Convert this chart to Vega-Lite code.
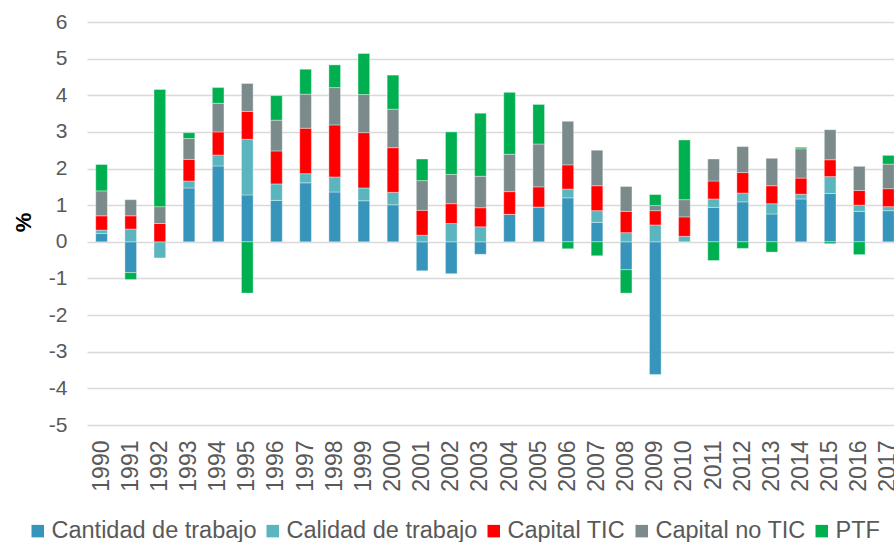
{
  "$schema": "https://vega.github.io/schema/vega-lite/v6.json",
  "width": 807,
  "height": 403,
  "autosize": {"type": "none"},
  "padding": {"left": 87, "top": 22, "right": 0, "bottom": 117},
  "background": "white",
  "config": {"view": {"stroke": null}, "font": "Liberation Sans"},
  "data": {"values": [
    {"year": "1990", "Cantidad de trabajo": 0.23, "Calidad de trabajo": 0.09, "Capital TIC": 0.39, "Capital no TIC": 0.68, "PTF": 0.72},
    {"year": "1991", "Cantidad de trabajo": -0.84, "Calidad de trabajo": 0.35, "Capital TIC": 0.36, "Capital no TIC": 0.44, "PTF": -0.19},
    {"year": "1992", "Cantidad de trabajo": 0, "Calidad de trabajo": -0.44, "Capital TIC": 0.50, "Capital no TIC": 0.46, "PTF": 3.20},
    {"year": "1993", "Cantidad de trabajo": 1.47, "Calidad de trabajo": 0.19, "Capital TIC": 0.59, "Capital no TIC": 0.57, "PTF": 0.16},
    {"year": "1994", "Cantidad de trabajo": 2.07, "Calidad de trabajo": 0.30, "Capital TIC": 0.63, "Capital no TIC": 0.78, "PTF": 0.43},
    {"year": "1995", "Cantidad de trabajo": 1.28, "Calidad de trabajo": 1.52, "Capital TIC": 0.76, "Capital no TIC": 0.76, "PTF": -1.40},
    {"year": "1996", "Cantidad de trabajo": 1.13, "Calidad de trabajo": 0.45, "Capital TIC": 0.90, "Capital no TIC": 0.84, "PTF": 0.67},
    {"year": "1997", "Cantidad de trabajo": 1.61, "Calidad de trabajo": 0.25, "Capital TIC": 1.24, "Capital no TIC": 0.93, "PTF": 0.68},
    {"year": "1998", "Cantidad de trabajo": 1.36, "Calidad de trabajo": 0.41, "Capital TIC": 1.42, "Capital no TIC": 1.02, "PTF": 0.62},
    {"year": "1999", "Cantidad de trabajo": 1.12, "Calidad de trabajo": 0.35, "Capital TIC": 1.51, "Capital no TIC": 1.04, "PTF": 1.12},
    {"year": "2000", "Cantidad de trabajo": 1.01, "Calidad de trabajo": 0.34, "Capital TIC": 1.22, "Capital no TIC": 1.05, "PTF": 0.93},
    {"year": "2001", "Cantidad de trabajo": -0.79, "Calidad de trabajo": 0.18, "Capital TIC": 0.68, "Capital no TIC": 0.81, "PTF": 0.59},
    {"year": "2002", "Cantidad de trabajo": -0.87, "Calidad de trabajo": 0.50, "Capital TIC": 0.54, "Capital no TIC": 0.80, "PTF": 1.16},
    {"year": "2003", "Cantidad de trabajo": -0.34, "Calidad de trabajo": 0.41, "Capital TIC": 0.52, "Capital no TIC": 0.86, "PTF": 1.72},
    {"year": "2004", "Cantidad de trabajo": 0.75, "Calidad de trabajo": 0, "Capital TIC": 0.62, "Capital no TIC": 1.02, "PTF": 1.69},
    {"year": "2005", "Cantidad de trabajo": 0.95, "Calidad de trabajo": 0, "Capital TIC": 0.55, "Capital no TIC": 1.17, "PTF": 1.08},
    {"year": "2006", "Cantidad de trabajo": 1.20, "Calidad de trabajo": 0.24, "Capital TIC": 0.66, "Capital no TIC": 1.19, "PTF": -0.19},
    {"year": "2007", "Cantidad de trabajo": 0.53, "Calidad de trabajo": 0.32, "Capital TIC": 0.68, "Capital no TIC": 0.97, "PTF": -0.38},
    {"year": "2008", "Cantidad de trabajo": -0.76, "Calidad de trabajo": 0.25, "Capital TIC": 0.58, "Capital no TIC": 0.68, "PTF": -0.64},
    {"year": "2009", "Cantidad de trabajo": -3.62, "Calidad de trabajo": 0.46, "Capital TIC": 0.39, "Capital no TIC": 0.14, "PTF": 0.30},
    {"year": "2010", "Cantidad de trabajo": 0, "Calidad de trabajo": 0.15, "Capital TIC": 0.53, "Capital no TIC": 0.47, "PTF": 1.63},
    {"year": "2011", "Cantidad de trabajo": 0.94, "Calidad de trabajo": 0.23, "Capital TIC": 0.49, "Capital no TIC": 0.60, "PTF": -0.51},
    {"year": "2012", "Cantidad de trabajo": 1.09, "Calidad de trabajo": 0.24, "Capital TIC": 0.56, "Capital no TIC": 0.71, "PTF": -0.18},
    {"year": "2013", "Cantidad de trabajo": 0.76, "Calidad de trabajo": 0.28, "Capital TIC": 0.49, "Capital no TIC": 0.75, "PTF": -0.28},
    {"year": "2014", "Cantidad de trabajo": 1.17, "Calidad de trabajo": 0.13, "Capital TIC": 0.44, "Capital no TIC": 0.80, "PTF": 0.04},
    {"year": "2015", "Cantidad de trabajo": 1.32, "Calidad de trabajo": 0.46, "Capital TIC": 0.46, "Capital no TIC": 0.82, "PTF": -0.05},
    {"year": "2016", "Cantidad de trabajo": 0.83, "Calidad de trabajo": 0.17, "Capital TIC": 0.40, "Capital no TIC": 0.66, "PTF": -0.35},
    {"year": "2017", "Cantidad de trabajo": 0.85, "Calidad de trabajo": 0.11, "Capital TIC": 0.49, "Capital no TIC": 0.67, "PTF": 0.24}
  ]},
  "transform": [
    {"fold": ["Cantidad de trabajo", "Calidad de trabajo", "Capital TIC", "Capital no TIC", "PTF"], "as": ["c", "v"]},
    {"window": [{"op": "row_number", "as": "k"}], "groupby": ["year"]}
  ],
  "mark": {"type": "bar", "clip": true, "stroke": "white", "strokeWidth": 0.6, "strokeOpacity": 0.6},
  "encoding": {
    "x": {
      "field": "year", "type": "ordinal",
      "scale": {"range": [0, 816], "paddingInner": 0.6, "paddingOuter": 0.3},
      "axis": {"title": null, "labelAngle": -90, "labelFontSize": 23, "labelColor": "#595959", "labelPadding": 15, "ticks": false, "domain": false, "grid": false}
    },
    "y": {
      "field": "v", "type": "quantitative", "stack": "zero",
      "scale": {"domain": [-5, 6], "nice": false},
      "axis": {"title": "%", "titleFontSize": 22, "titleFontWeight": "bold", "titleColor": "#000000", "titleX": -64, "titleY": 200, "titleAngle": -90, "titleAlign": "center", "titleBaseline": "middle",
               "values": [-5, -4, -3, -2, -1, 0, 1, 2, 3, 4, 5, 6], "labelExpr": "'' + datum.value", "labelFontSize": 21, "labelColor": "#595959", "labelPadding": 20, "ticks": false, "domain": false, "grid": true, "gridColor": "#D9D9D9", "gridWidth": 1.5}
    },
    "order": {"field": "k", "type": "quantitative", "sort": "ascending"},
    "color": {
      "field": "c", "type": "nominal",
      "scale": {"domain": ["Cantidad de trabajo", "Calidad de trabajo", "Capital TIC", "Capital no TIC", "PTF"], "range": ["#3794BA", "#5AB5BE", "#FF0000", "#7B8B8C", "#00B050"]},
      "legend": {"title": null, "orient": "none", "direction": "horizontal", "columns": 5, "legendX": -61, "legendY": 497, "padding": 0, "symbolType": "square", "symbolSize": 156, "symbolStrokeWidth": 0, "labelFontSize": 23.5, "labelLimit": 0, "labelColor": "#595959", "labelOffset": 2, "columnPadding": 4}
    }
  }
}
